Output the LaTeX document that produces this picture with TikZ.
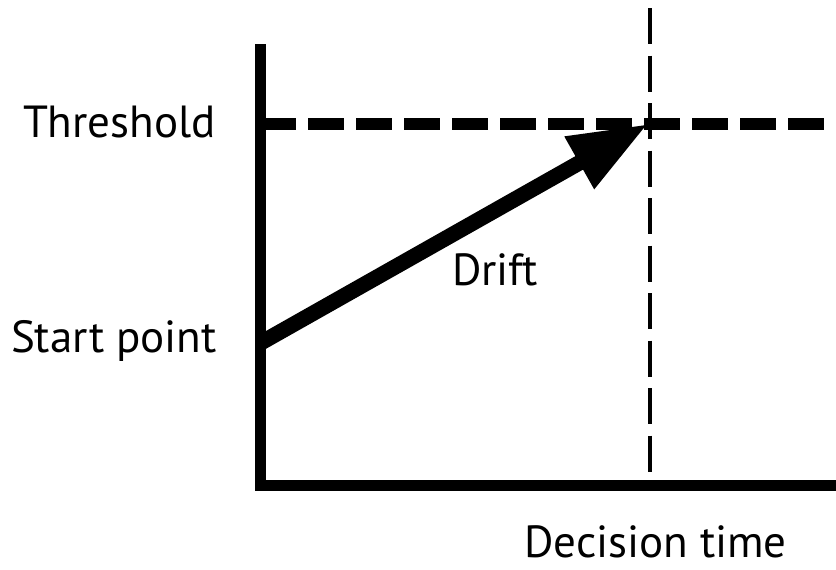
\documentclass[tikz,border=0pt]{standalone}
\usepackage{fontspec}
\setmainfont{PT Sans}
\usetikzlibrary{arrows.meta}
\begin{document}
\begin{tikzpicture}[x=1pt,y=-1pt,
  lbl/.style={inner sep=0pt,font=\fontsize{45}{51}\selectfont},
  axisline/.style={line width=11.5pt,line cap=butt,line join=miter},
  thresh/.style={line width=12pt,dash pattern=on 36pt off 12pt},
  dtime/.style={line width=4pt,dash pattern=on 36pt off 11.5pt},
  drift/.style={line width=15.5pt,-{Triangle[length=79pt,width=56pt]}}]
\useasboundingbox (0,0) rectangle (836,570);
\coordinate (ytop) at (260.5,44);
\coordinate (origin) at (260.5,485.5);
\coordinate (xend) at (836,485.5);
\coordinate (thl) at (260,124);
\coordinate (thr) at (836,124);
\coordinate (dtop) at (650,8);
\coordinate (dbot) at (650,479);
\coordinate (start) at (260.5,343);
\coordinate (tip) at (648,124);
\draw[thresh] (thl) -- (thr);
\draw[dtime] (dtop) -- (dbot);
\draw[drift] (start) -- (tip);
\draw[axisline] (ytop) -- (origin) -- (xend);
\node[lbl,anchor=base east] (th) at (216,137) {Threshold};
\node[lbl,anchor=base east] (sp) at (217,352) {Start point};
\node[lbl,anchor=base west] (dr) at (452,285) {Drift};
\node[lbl,anchor=base west] (dt) at (524,557) {Decision time};
\end{tikzpicture}
\end{document}
